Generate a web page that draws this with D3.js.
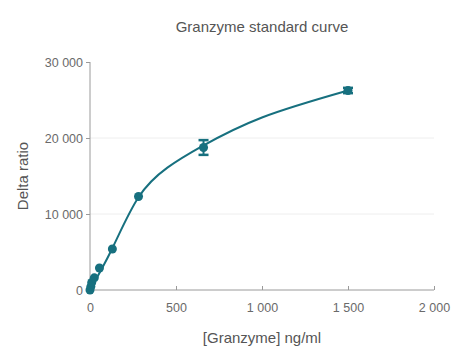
<!DOCTYPE html>
<html>
<head>
<meta charset="utf-8">
<script src="https://cdn.jsdelivr.net/npm/d3@7"></script>
<style>
  body { margin: 0; background: #fff; }
  text { font-family: "Liberation Sans", Arial, sans-serif; }
</style>
</head>
<body>
<div id="chart"></div>
<script>
// concentrations (ng/ml), mean delta ratio and error
var conc = [0, 5, 10, 25, 55, 130, 282, 660, 1500];
var delta = [0, 450, 1000, 1600, 2900, 5400, 12300, 18750, 26250];
var err = [0, 0, 0, 0, 0, 0, 0, 970, 350];
// fitted standard curve at a few concentrations
var curveConc = [0, 130, 282, 450, 650, 1000, 1500];
var curveDelta = [0, 5500, 12200, 16100, 18900, 22700, 26250];
var xTicks = [0, 500, 1000, 1500, 2000];
var yTicks = [0, 10000, 20000, 30000];

var svgWidth = 453, svgHeight = 347;
var margin = { top: 62, right: 19, bottom: 57, left: 90 };
var chartWidth = svgWidth - margin.left - margin.right;
var chartHeight = svgHeight - margin.top - margin.bottom;
var teal = "#17707f";

var svg = d3.select("#chart").append("svg")
            .attr("width", svgWidth)
            .attr("height", svgHeight);

var g = svg.append("g")
           .attr("transform", `translate(${margin.left}, ${margin.top})`);

var x = d3.scaleLinear().domain([0, 2000]).range([0, chartWidth]);
var y = d3.scaleLinear().domain([0, 30000]).range([chartHeight, 0]);

var fmt = d => d3.format(",")(d).replace(/,/g, " ");

// light gridlines
g.selectAll(".grid")
 .data(yTicks.filter(d => d > 0 && d < 30000))
 .enter().append("line")
 .attr("x1", 0).attr("x2", chartWidth)
 .attr("y1", d => y(d)).attr("y2", d => y(d))
 .attr("stroke", "#eeeeee");

// axes
var xAxis = g.append("g")
             .attr("transform", `translate(0, ${chartHeight})`)
             .call(d3.axisBottom(x).tickValues(xTicks).tickFormat(fmt).tickSize(-4).tickPadding(13));
var yAxis = g.append("g")
             .call(d3.axisLeft(y).tickValues(yTicks).tickFormat(fmt).tickSize(4).tickPadding(3));

[xAxis, yAxis].forEach(function(a) {
  a.select(".domain").attr("stroke", "#9a9a9a");
  a.selectAll(".tick line").attr("stroke", "#9a9a9a");
  a.selectAll(".tick text").attr("fill", "#6a6a6a").attr("font-size", "12.5px")
   .attr("font-family", "Liberation Sans, Arial, sans-serif");
});
xAxis.select(".domain").attr("d", `M0,0H${chartWidth}`);
yAxis.select(".domain").attr("d", `M0,${chartHeight}V0`);

var data = conc.map((c, i) => ({ x: c, y: delta[i], e: err[i] }));
var curve = curveConc.map((c, i) => ({ x: c, y: curveDelta[i] }));

// smooth standard curve
g.append("path")
 .datum(curve)
 .attr("fill", "none")
 .attr("stroke", teal)
 .attr("stroke-width", 2)
 .attr("d", d3.line().x(d => x(d.x)).y(d => y(d.y)).curve(d3.curveNatural));

// error bars
var eb = g.selectAll(".err").data(data.filter(d => d.e > 0)).enter().append("g");
eb.append("line")
  .attr("x1", d => x(d.x)).attr("x2", d => x(d.x))
  .attr("y1", d => y(d.y - d.e)).attr("y2", d => y(d.y + d.e))
  .attr("stroke", teal).attr("stroke-width", 2);
eb.selectAll(".cap").data(d => [[d.x, d.y - d.e], [d.x, d.y + d.e]]).enter().append("line")
  .attr("x1", d => x(d[0]) - 5).attr("x2", d => x(d[0]) + 5)
  .attr("y1", d => y(d[1])).attr("y2", d => y(d[1]))
  .attr("stroke", teal).attr("stroke-width", 2.5);

// points
g.selectAll("circle")
 .data(data)
 .enter().append("circle")
 .attr("cx", d => x(d.x))
 .attr("cy", d => y(d.y))
 .attr("r", 4.5)
 .attr("fill", teal);

// title and axis labels
svg.append("text")
   .attr("x", 262).attr("y", 32)
   .attr("text-anchor", "middle")
   .attr("font-size", "15px")
   .attr("fill", "#555")
   .text("Granzyme standard curve");

svg.append("text")
   .attr("transform", `translate(28, ${margin.top + chartHeight / 2}) rotate(-90)`)
   .attr("text-anchor", "middle")
   .attr("font-size", "15px")
   .attr("fill", "#555")
   .text("Delta ratio");

svg.append("text")
   .attr("x", 262).attr("y", 343)
   .attr("text-anchor", "middle")
   .attr("font-size", "15px")
   .attr("fill", "#555")
   .text("[Granzyme] ng/ml");
</script>
</body>
</html>
